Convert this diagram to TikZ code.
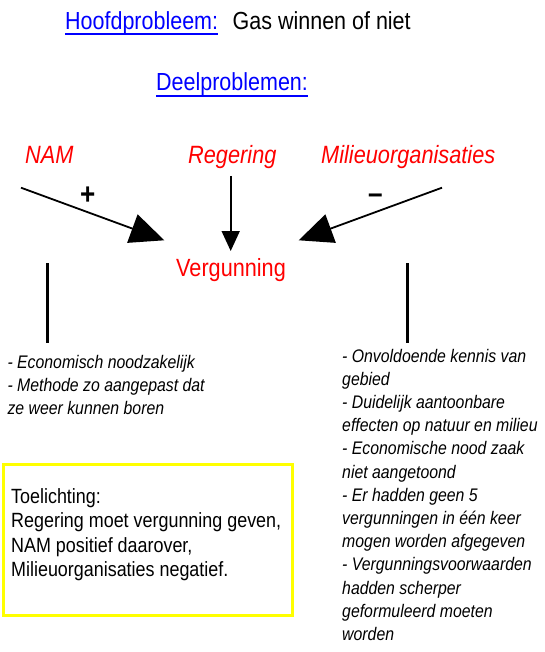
\documentclass[tikz,border=0pt]{standalone}
\usepackage{fontspec}
\setmainfont{Liberation Sans}[FakeStretch=0.87]
\usetikzlibrary{arrows.meta}
\definecolor{blu}{RGB}{0,0,255}
\definecolor{rd}{RGB}{255,0,0}
\definecolor{yel}{RGB}{255,255,0}
\begin{document}
\begin{tikzpicture}[x=1pt,y=-1pt,
  lbl/.style={inner sep=0pt, anchor=base west},
  big/.style={lbl, font=\fontsize{24.7}{30}\selectfont},
  head/.style={big, text=blu},
  actor/.style={lbl, font=\fontsize{25}{30}\selectfont\itshape, text=rd},
  note/.style={lbl, font=\fontsize{18.2}{23}\selectfont\itshape},
  expl/.style={lbl, font=\fontsize{20.6}{24}\selectfont},
  sign/.style={inner sep=0pt, anchor=base, font=\fontsize{30}{30}\selectfont\bfseries},
  conn/.style={line width=1.8pt},
  bar/.style={line width=2.7pt},
  uline/.style={blu, line width=2pt}]
\useasboundingbox (0,0) rectangle (544,652);

% headings
\node[head] (hoofd) at (65,30) {Hoofdprobleem:};
\node[big] (gas) at (232.5,30) {Gas winnen of niet};
\draw[uline] ([yshift=-4.3pt]hoofd.base west) -- ([yshift=-4.3pt]hoofd.base east);
\node[head] (deel) at (156,91) {Deelproblemen:};
\draw[uline] ([yshift=-4.7pt]deel.base west) -- ([yshift=-4.7pt]deel.base east);

% actors
\node[actor] (nam) at (25,164) {NAM};
\node[actor] (reg) at (188,164) {Regering};
\node[actor] (mil) at (321,164) {Milieuorganisaties};
\node[lbl, font=\fontsize{24.9}{30}\selectfont, text=rd] (verg) at (176,276) {Vergunning};

% signs
\node[sign] (plus) at (87.7,204.5) {+};
\node[sign] (minus) at (375.5,203.5) {--};

% arrows
\coordinate (namS) at (21,187.7);
\coordinate (namE) at (164.3,240.3);
\coordinate (regS) at (230.7,176);
\coordinate (regE) at (230.7,251);
\coordinate (milS) at (442,187.7);
\coordinate (milE) at (298.7,240.3);
\draw[conn, -{Triangle[length=34pt,width=30pt]}] (namS) -- (namE);
\draw[conn, -{Triangle[length=20pt,width=18pt]}] (regS) -- (regE);
\draw[conn, -{Triangle[length=34pt,width=30pt]}] (milS) -- (milE);

% vertical bars
\coordinate (lbT) at (47.3,263.3);
\coordinate (lbB) at (47.3,343.3);
\coordinate (rbT) at (407.7,263.3);
\coordinate (rbB) at (407.7,343.3);
\draw[bar] (lbT) -- (lbB);
\draw[bar] (rbT) -- (rbB);

% left notes
\foreach \t [count=\i] in {- Economisch noodzakelijk, - Methode zo aangepast dat, ze weer kunnen boren}
  \node[note] (l\i) at (7.3,{368.3+23.3*(\i-1)}) {\t};

% right notes
\foreach \t [count=\i] in {- Onvoldoende kennis van, gebied, - Duidelijk aantoonbare,
  effecten op natuur en milieu, - Economische nood zaak, niet aangetoond,
  - Er hadden geen 5, vergunningen in één keer, mogen worden afgegeven,
  - Vergunningsvoorwaarden, hadden scherper, geformuleerd moeten, worden}
  \node[note] (r\i) at (342,{362+23.2*(\i-1)}) {\t};

% explanation box
\node[draw=yel, line width=3pt, inner sep=0pt, minimum width=289pt, minimum height=150.5pt, anchor=north west] (box) at (1.5,463) {};
\node[expl] (e1) at (11,503) {Toelichting:};
\node[expl] (e2) at (11,527.5) {Regering moet vergunning geven,};
\node[expl] (e3) at (11,552) {NAM positief daarover,};
\node[expl] (e4) at (11,576.5) {Milieuorganisaties negatief.};
\end{tikzpicture}
\end{document}
